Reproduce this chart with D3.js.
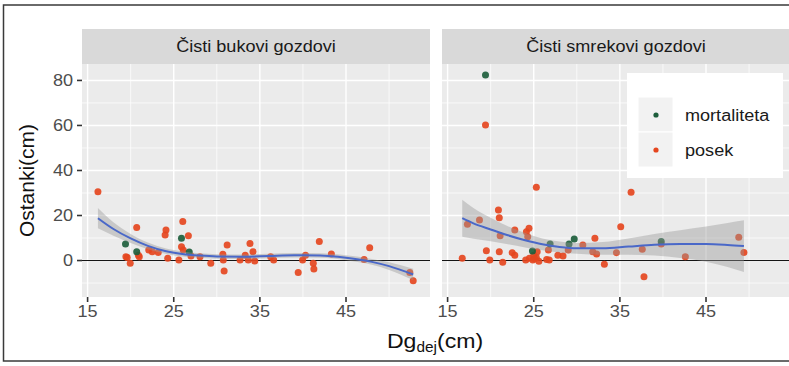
<!DOCTYPE html>
<html>
<head>
<meta charset="utf-8">
<script src="https://cdn.jsdelivr.net/npm/d3@7"></script>
<style>
  body { margin: 0; background: #fff; }
  text { font-family: "Liberation Sans", Arial, sans-serif; }
</style>
</head>
<body>
<svg id="chart" width="789" height="366"></svg>
<script>
// panel titles
const panels = ["Čisti bukovi gozdovi", "Čisti smrekovi gozdovi"];
const groups = ["mortaliteta", "posek"];

// residuals, beech stands  [Dg, ostanek]
const bukPosek = [[16.2,30.6],[19.45,1.7],[19.6,1.4],[19.95,-1.2],[20.7,14.7],[21.0,1.7],[20.9,2.4],[22.1,4.7],[22.5,3.9],[23.2,3.6],
  [24.1,13.6],[24.0,11.3],[24.3,1.0],[26.05,17.3],[26.7,11.0],[25.6,0.2],[25.9,6.1],[26.1,4.7],[27.0,2.0],[28.05,1.7],
  [29.3,-1.2],[30.7,2.8],[30.75,0.2],[30.85,-4.7],[31.2,6.9],[32.7,0.2],[33.3,2.4],[33.85,7.6],[33.65,0.2],[34.2,3.9],
  [34.4,-0.2],[36.25,1.7],[36.6,0.2],[39.45,-5.3],[39.96,0.2],[40.3,2.4],[41.2,-1.2],[41.27,-3.8],[41.9,8.4],[43.3,2.9],
  [47.1,0.5],[47.75,5.7],[52.4,-5.3],[52.8,-9.0]];
const bukMort = [[19.4,7.3],[20.7,3.9],[25.9,9.9],[26.8,3.8]];

// residuals, spruce stands
const smrPosek = [[16.7,1.0],[17.3,16.1],[18.7,18.0],[19.4,60.2],[19.5,4.4],[19.9,0.2],[20.9,22.4],[21.0,19.0],[21.1,11.0],[21.0,3.9],
  [21.4,-0.8],[22.5,3.5],[22.8,2.4],[22.8,13.6],[24.15,12.8],[24.45,14.3],[24.3,10.6],[24.07,0.2],[24.5,1.0],[24.9,0.2],
  [25.3,1.4],[25.0,2.4],[25.4,3.9],[25.3,32.5],[25.1,0.8],[25.6,-0.3],[26.5,0.5],[26.8,0.2],[26.7,4.7],[27.8,2.4],[28.4,2.0],
  [29.0,4.7],[30.7,6.9],[32.1,9.9],[31.85,3.9],[32.3,2.9],[33.2,-1.7],[34.6,3.5],[35.1,15.0],[36.3,30.3],[37.6,5.0],
  [37.8,-7.2],[39.8,7.3],[42.6,1.7],[48.8,10.3],[49.4,3.6]];
const smrMort = [[19.4,82.4],[24.85,4.2],[26.9,7.3],[29.1,7.3],[29.7,9.6],[39.8,8.4]];

// smoother (loess): x, fit, half-width of band
const bukFitX = [16.2, 18, 20, 22, 24, 26, 28, 30, 33, 36, 39, 42, 45, 48, 50, 52.8];
const bukFitY = [18.8, 14.0, 9.8, 6.5, 4.2, 2.9, 2.2, 1.8, 1.7, 2.0, 2.3, 2.2, 1.2, -0.6, -2.5, -6.2];
const bukFitSe = [4.5, 3.0, 2.0, 1.5, 1.2, 1.1, 1.0, 1.0, 1.0, 1.0, 1.0, 1.0, 1.1, 1.3, 1.7, 2.6];
const smrFitX = [16.7, 18, 20, 22, 24, 26, 28, 30, 33, 36, 39, 42, 45, 47.5, 49.4];
const smrFitY = [18.8, 16.5, 13.8, 11.2, 9.0, 7.2, 6.0, 5.4, 5.4, 6.2, 7.0, 7.3, 7.3, 6.9, 6.4];
const smrFitSe = [8.2, 6.8, 5.2, 4.0, 3.2, 2.6, 2.4, 2.4, 2.8, 3.6, 4.8, 6.2, 7.8, 9.8, 11.5];

const xTicks = [15, 25, 35, 45];
const xMinor = [20, 30, 40, 50];
const yTicks = [0, 20, 40, 60, 80];
const yMinor = [-10, 10, 30, 50, 70];

const colors = { mortaliteta: "#1d5e3c", posek: "#e5461f" };

const svg = d3.select("#chart");
const stretch = 1.13;

// outer frame
svg.append("rect").attr("x", 3.5).attr("y", 5).attr("width", 820).attr("height", 356)
  .attr("fill", "none").attr("stroke", "#3a3a3a").attr("stroke-width", 1.5);

const plotTop = 64, plotBottom = 297, stripH = 35, panelW = 348;
const panelX = [82, 442];

const y = d3.scaleLinear().domain([-16.2, 87.3]).range([plotBottom, plotTop]);

const data = [
  { posek: bukPosek, mort: bukMort, fx: bukFitX, fy: bukFitY, se: bukFitSe },
  { posek: smrPosek, mort: smrMort, fx: smrFitX, fy: smrFitY, se: smrFitSe }
];

panels.forEach(function (title, i) {
  const x0 = panelX[i];
  const x = d3.scaleLinear().domain([14.35, 54.75]).range([x0, x0 + panelW]);
  const g = svg.append("g");

  // strip
  g.append("rect").attr("x", x0).attr("y", plotTop - stripH).attr("width", panelW).attr("height", stripH)
    .attr("fill", "#d9d9d9");
  g.append("text")
    .attr("transform", "translate(" + (x0 + panelW / 2) + "," + (plotTop - stripH / 2) + ") scale(" + stretch + ",1)")
    .attr("text-anchor", "middle").attr("dy", "0.35em")
    .attr("font-size", 16).attr("fill", "#1a1a1a").text(title);

  // panel
  g.append("rect").attr("x", x0).attr("y", plotTop).attr("width", panelW).attr("height", plotBottom - plotTop)
    .attr("fill", "#ebebeb");

  const grid = g.append("g").attr("stroke", "#fff");
  grid.selectAll(".ymin").data(yMinor).enter().append("line")
    .attr("x1", x0).attr("x2", x0 + panelW).attr("y1", y).attr("y2", y).attr("stroke-width", 0.7);
  grid.selectAll(".xmin").data(xMinor).enter().append("line")
    .attr("y1", plotTop).attr("y2", plotBottom).attr("x1", x).attr("x2", x).attr("stroke-width", 0.7);
  grid.selectAll(".ymaj").data(yTicks).enter().append("line")
    .attr("x1", x0).attr("x2", x0 + panelW).attr("y1", y).attr("y2", y).attr("stroke-width", 1.4);
  grid.selectAll(".xmaj").data(xTicks).enter().append("line")
    .attr("y1", plotTop).attr("y2", plotBottom).attr("x1", x).attr("x2", x).attr("stroke-width", 1.4);

  const d = data[i];
  const fit = d.fx.map(function (v, k) { return { x: v, y: d.fy[k], lo: d.fy[k] - d.se[k], hi: d.fy[k] + d.se[k] }; });

  // zero line
  g.append("line").attr("x1", x0).attr("x2", x0 + panelW).attr("y1", y(0)).attr("y2", y(0))
    .attr("stroke", "#111").attr("stroke-width", 1);

  // points
  g.selectAll(".posek").data(d.posek).enter().append("circle")
    .attr("cx", function (p) { return x(p[0]); }).attr("cy", function (p) { return y(p[1]); })
    .attr("r", 3.5).attr("fill", colors.posek).attr("opacity", 0.92);
  g.selectAll(".mort").data(d.mort).enter().append("circle")
    .attr("cx", function (p) { return x(p[0]); }).attr("cy", function (p) { return y(p[1]); })
    .attr("r", 3.5).attr("fill", colors.mortaliteta).attr("opacity", 0.92);

  // smoother band + line
  g.append("path").datum(fit)
    .attr("d", d3.area().curve(d3.curveMonotoneX)
      .x(function (p) { return x(p.x); }).y0(function (p) { return y(p.lo); }).y1(function (p) { return y(p.hi); }))
    .attr("fill", "#999").attr("opacity", 0.42);
  g.append("path").datum(fit)
    .attr("d", d3.line().curve(d3.curveMonotoneX)
      .x(function (p) { return x(p.x); }).y(function (p) { return y(p.y); }))
    .attr("fill", "none").attr("stroke", "#4a68c8").attr("stroke-width", 2);

  // x axis
  const xa = g.append("g");
  xa.selectAll("line").data(xTicks).enter().append("line")
    .attr("x1", x).attr("x2", x).attr("y1", plotBottom).attr("y2", plotBottom + 5)
    .attr("stroke", "#333").attr("stroke-width", 1.6);
  xa.selectAll("text").data(xTicks).enter().append("text")
    .attr("transform", function (t) { return "translate(" + x(t) + "," + (plotBottom + 20) + ") scale(" + stretch + ",1)"; })
    .attr("text-anchor", "middle").attr("font-size", 16).attr("fill", "#4d4d4d")
    .text(function (t) { return t; });
});

// y axis (left panel only)
const ya = svg.append("g");
ya.selectAll("line").data(yTicks).enter().append("line")
  .attr("x1", panelX[0] - 5).attr("x2", panelX[0]).attr("y1", y).attr("y2", y)
  .attr("stroke", "#333").attr("stroke-width", 1.6);
ya.selectAll("text").data(yTicks).enter().append("text")
  .attr("transform", function (t) { return "translate(" + (panelX[0] - 9) + "," + y(t) + ") scale(" + stretch + ",1)"; })
  .attr("text-anchor", "end").attr("dy", "0.35em").attr("font-size", 16).attr("fill", "#4d4d4d")
  .text(function (t) { return t; });

// axis titles
svg.append("text")
  .attr("transform", "translate(34," + ((plotTop + plotBottom) / 2) + ") rotate(-90)")
  .attr("text-anchor", "middle").attr("font-size", 21).attr("fill", "#111")
  .text("Ostanki(cm)");

const xt = svg.append("text")
  .attr("transform", "translate(435,348) scale(1.1,1)")
  .attr("text-anchor", "middle").attr("font-size", 21).attr("fill", "#111");
xt.append("tspan").text("Dg");
xt.append("tspan").attr("font-size", 14).attr("dy", 4).text("dej");
xt.append("tspan").attr("dy", -4).text("(cm)");

// legend
const lg = svg.append("g");
lg.append("rect").attr("x", 627).attr("y", 73).attr("width", 156).attr("height", 105).attr("fill", "#fff");
groups.forEach(function (name, k) {
  const ky = 97 + k * 35;
  lg.append("rect").attr("x", 638).attr("y", ky).attr("width", 35).attr("height", 35)
    .attr("fill", "#f2f2f2").attr("stroke", "#fff").attr("stroke-width", 1);
  lg.append("circle").attr("cx", 656).attr("cy", ky + 18).attr("r", 2.6).attr("fill", colors[name]);
  lg.append("text")
    .attr("transform", "translate(685," + (ky + 18) + ") scale(" + stretch + ",1)")
    .attr("dy", "0.35em").attr("font-size", 16).attr("fill", "#1a1a1a").text(name);
});
</script>
</body>
</html>
